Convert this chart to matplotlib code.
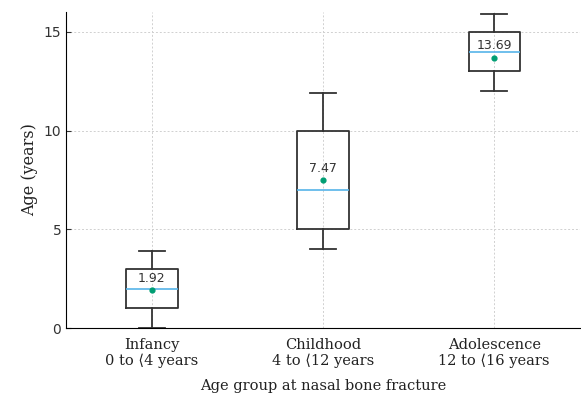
import matplotlib
matplotlib.use("Agg")
import matplotlib.pyplot as plt

# age groups and box statistics (years)
groups = ["Infancy\n0 to \u27e84 years", "Childhood\n4 to \u27e812 years", "Adolescence\n12 to \u27e816 years"]
whislo = [0, 4, 12]
q1 = [1, 5, 13]
med = [2, 7, 14]
q3 = [3, 10, 15]
whishi = [3.9, 11.9, 15.9]
means = [1.92, 7.47, 13.69]

serif = ["DejaVu Serif"]

fig, ax = plt.subplots(figsize=(5.81, 4.00), dpi=100)
fig.subplots_adjust(left=0.114, right=0.998, top=0.97, bottom=0.18)

stats = []
for i in range(len(groups)):
    stats.append({"label": groups[i], "whislo": whislo[i], "q1": q1[i], "med": med[i],
                  "q3": q3[i], "whishi": whishi[i], "fliers": []})

ax.bxp(stats, positions=[1, 2, 3], widths=0.3, showfliers=False,
       boxprops=dict(color="#333333", linewidth=1.3),
       whiskerprops=dict(color="#333333", linewidth=1.3),
       capprops=dict(color="#333333", linewidth=1.3),
       medianprops=dict(color="#56B4E9", linewidth=1.2))

ax.scatter([1, 2, 3], means, color="#009E73", s=12, zorder=4)
for i, m in enumerate(means):
    ax.annotate(f"{m:.2f}", (i + 1, m), xytext=(0, 8.5), textcoords="offset points",
                ha="center", va="center", fontsize=9, color="#333333")

ax.set_xlim(0.5, 3.5)
ax.set_ylim(0, 16)
ax.set_yticks([0, 5, 10, 15])
ax.grid(True, linestyle=(0, (2, 2)), color="#d0d0d0", linewidth=0.7)
ax.set_axisbelow(True)
for s in ["top", "right"]:
    ax.spines[s].set_visible(False)
ax.tick_params(axis="y", direction="in", labelsize=10, colors="#333333", labelcolor="#333333")
ax.tick_params(axis="x", length=0, pad=7)
for lab in ax.get_xticklabels():
    lab.set_fontfamily(serif)
    lab.set_fontsize(10.5)
    lab.set_color("#222222")
ax.set_xlabel("Age group at nasal bone fracture", fontfamily=serif, fontsize=10.5,
              labelpad=8, color="#222222")
ax.set_ylabel("Age (years)", fontfamily=serif, fontsize=11.5, color="#222222")

fig.savefig("out.png", dpi=100)
